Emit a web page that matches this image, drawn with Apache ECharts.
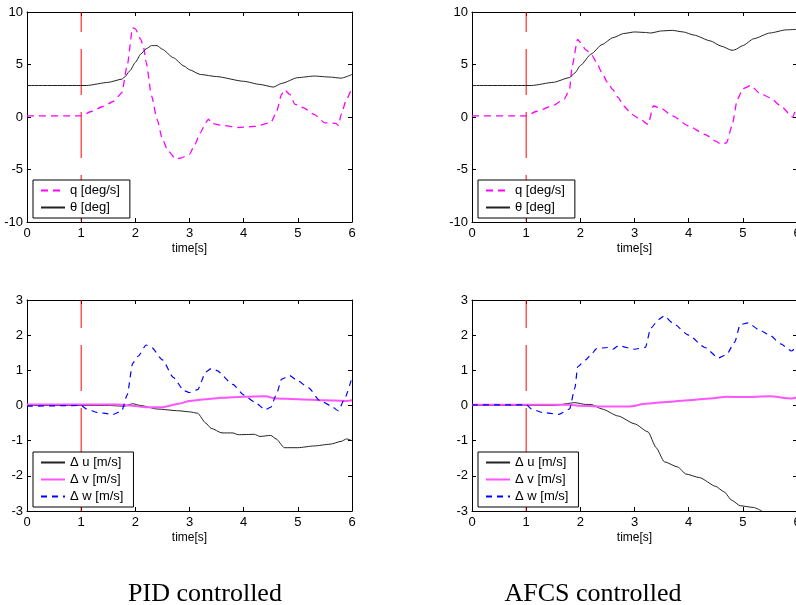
<!DOCTYPE html>
<html>
<head>
<meta charset="utf-8">
<script src="https://cdn.jsdelivr.net/npm/echarts@6/dist/echarts.min.js"></script>
<style>html,body{margin:0;padding:0;background:#fff}#c{width:796px;height:605px}</style>
</head>
<body>
<div id="c"></div>
<script>
// ---- data (time [s], value) ----
const xTicks = [0, 1, 2, 3, 4, 5, 6];
const stepTime = 1;

// PID, top panel
const qPid = [[0,0.1],[1,0.1],[1.2,0.55],[1.4,1.0],[1.6,1.5],[1.75,2.3],[1.85,4.9],[1.95,8.5],[2.0,8.4],[2.1,7.4],[2.15,6.7],[2.2,5.2],[2.3,2.0],[2.4,-0.2],[2.5,-2.1],[2.6,-3.2],[2.75,-4.0],[2.85,-3.9],[3.0,-3.55],[3.1,-2.6],[3.2,-1.5],[3.3,-0.55],[3.35,-0.2],[3.4,-0.6],[3.6,-0.8],[3.9,-1.0],[4.2,-0.9],[4.5,-0.55],[4.6,0.4],[4.7,2.15],[4.75,2.6],[4.85,2.15],[4.95,1.2],[5.1,0.9],[5.3,0.25],[5.5,-0.55],[5.7,-0.6],[5.75,-0.8],[5.8,0.25],[5.9,1.7],[6.0,2.8]];
const thetaPid = [[0,3.0],[1.1,3.0],[1.5,3.3],[1.75,3.6],[1.8,3.8],[1.9,4.4],[2.0,5.2],[2.1,6.0],[2.2,6.5],[2.3,6.8],[2.4,6.8],[2.5,6.45],[2.7,5.65],[2.9,4.85],[3.0,4.5],[3.2,4.05],[3.5,3.85],[4.0,3.4],[4.3,3.1],[4.55,2.85],[4.7,3.2],[5.0,3.75],[5.3,3.9],[5.6,3.8],[5.8,3.7],[6.0,4.05]];

// AFCS, top panel
const qAfcs = [[0,0.1],[1,0.1],[1.2,0.55],[1.5,1.1],[1.7,1.7],[1.8,2.6],[1.85,4.9],[1.95,7.4],[2.0,7.1],[2.1,6.4],[2.2,6.0],[2.3,5.2],[2.4,4.2],[2.5,3.3],[2.6,2.6],[2.7,1.85],[2.8,1.05],[2.95,0.25],[3.1,-0.2],[3.25,-0.7],[3.35,1.05],[3.5,0.8],[3.7,0.1],[4.0,-0.85],[4.3,-1.65],[4.5,-2.3],[4.6,-2.6],[4.7,-2.45],[4.8,-0.85],[4.9,1.7],[5.0,2.7],[5.15,3.0],[5.3,2.3],[5.5,1.85],[5.7,1.05],[5.92,0.0],[6.0,1.2]];
const thetaAfcs = [[0,3.0],[1.1,3.0],[1.5,3.3],[1.8,3.75],[1.9,4.2],[2.0,4.9],[2.2,6.0],[2.4,6.9],[2.6,7.55],[2.8,7.95],[3.0,8.1],[3.2,8.05],[3.3,8.0],[3.5,8.2],[3.7,8.25],[3.9,8.1],[4.1,7.8],[4.4,7.25],[4.6,6.75],[4.8,6.35],[4.85,6.4],[5.0,6.8],[5.2,7.45],[5.5,8.0],[5.8,8.3],[6.0,8.35]];

// PID, bottom panel
const duPid = [[0,0],[1.5,0],[1.8,-0.02],[1.95,0.05],[2.1,0.0],[2.4,-0.1],[2.8,-0.15],[3.0,-0.18],[3.15,-0.22],[3.3,-0.5],[3.4,-0.65],[3.6,-0.78],[3.8,-0.78],[3.9,-0.83],[4.2,-0.82],[4.3,-0.88],[4.5,-0.85],[4.6,-0.95],[4.75,-1.2],[5.0,-1.2],[5.3,-1.15],[5.6,-1.1],[5.8,-1.02],[5.9,-0.95],[6.0,-1.0]];
const dvPid = [[0,0.03],[1.7,0.03],[1.9,0.0],[2.2,-0.05],[2.5,-0.05],[2.8,0.05],[3.0,0.13],[3.3,0.18],[3.6,0.22],[4.0,0.25],[4.4,0.26],[4.6,0.2],[5.0,0.18],[5.5,0.15],[5.9,0.13],[6.0,0.15]];
const dwPid = [[0,-0.02],[1,0.0],[1.1,-0.1],[1.3,-0.2],[1.6,-0.25],[1.75,-0.15],[1.85,0.3],[1.95,1.2],[2.05,1.4],[2.2,1.72],[2.3,1.65],[2.5,1.3],[2.7,0.8],[2.9,0.42],[3.0,0.37],[3.15,0.45],[3.3,0.95],[3.4,1.05],[3.5,1.0],[3.8,0.6],[4.0,0.3],[4.2,0.1],[4.4,-0.12],[4.5,-0.05],[4.6,0.3],[4.7,0.75],[4.85,0.85],[5.0,0.7],[5.2,0.5],[5.4,0.15],[5.6,0.0],[5.75,-0.15],[5.85,0.15],[6.0,0.8]];

// AFCS, bottom panel
const duAfcs = [[0,0],[1.5,0],[1.9,0.08],[2.1,0.03],[2.2,0.03],[2.4,-0.1],[2.7,-0.3],[3.0,-0.52],[3.25,-0.75],[3.4,-1.2],[3.55,-1.6],[3.8,-1.75],[3.95,-1.95],[4.2,-2.05],[4.5,-2.3],[4.65,-2.45],[4.8,-2.7],[4.95,-2.85],[5.2,-2.9],[5.35,-3.0]];
const dvAfcs = [[0,0.02],[1.8,0.02],[2.0,-0.01],[2.5,-0.03],[2.9,-0.03],[3.2,0.05],[3.6,0.1],[4.0,0.15],[4.4,0.2],[4.7,0.25],[5.0,0.24],[5.5,0.26],[5.9,0.2],[6.0,0.23]];
const dwAfcs = [[0,0.02],[1,0.02],[1.1,-0.1],[1.3,-0.2],[1.6,-0.25],[1.8,-0.1],[1.9,0.5],[1.95,1.1],[2.1,1.3],[2.2,1.45],[2.3,1.62],[2.5,1.65],[2.6,1.6],[2.7,1.7],[3.0,1.6],[3.2,1.65],[3.3,2.2],[3.45,2.45],[3.55,2.55],[3.7,2.35],[4.0,2.0],[4.3,1.65],[4.55,1.35],[4.7,1.45],[4.85,1.8],[4.95,2.3],[5.1,2.35],[5.3,2.15],[5.5,2.0],[5.7,1.75],[5.9,1.55],[6.0,1.7]];

const topRange = {min: -10, max: 10, interval: 5};
const botRange = {min: -3, max: 3, interval: 1};
const panelTitles = ['PID controlled', 'AFCS controlled'];
const topNames = ['q [deg/s]', 'θ [deg]'];
const botNames = ['Δ u [m/s]', 'Δ v [m/s]', 'Δ w [m/s]'];

// ---- build ----
const FONT = 'Liberation Sans, Arial, sans-serif';
const grids = [
  {left: 27, top: 12, width: 325, height: 210},
  {left: 472, top: 12, width: 325, height: 210},
  {left: 27, top: 300, width: 325, height: 211},
  {left: 472, top: 300, width: 325, height: 211}
].map(g => Object.assign(g, {outerBoundsMode: 'none', containLabel: false}));
const ranges = [topRange, topRange, botRange, botRange];
const xAxis = [], yAxis = [];
grids.forEach((g, i) => {
  const lineS = {show: true, onZero: false, lineStyle: {color: '#000', width: 1}};
  const tick = {show: true, inside: true, length: 4, lineStyle: {color: '#000'}};
  xAxis.push({type: 'value', gridIndex: i, position: 'bottom', min: 0, max: 6, interval: 1,
    axisLine: lineS, axisTick: tick, splitLine: {show: false},
    axisLabel: {color: '#000', fontSize: 13, fontFamily: FONT, margin: 5},
    name: 'time[s]', nameLocation: 'middle', nameGap: 21,
    nameTextStyle: {color: '#000', fontSize: 12, fontFamily: FONT}});
  xAxis.push({type: 'value', gridIndex: i, position: 'top', min: 0, max: 6, interval: 1,
    axisLine: lineS, axisTick: tick, splitLine: {show: false}, axisLabel: {show: false}});
  const r = ranges[i];
  yAxis.push({type: 'value', gridIndex: i, position: 'left', min: r.min, max: r.max, interval: r.interval,
    axisLine: lineS, axisTick: tick, splitLine: {show: false},
    axisLabel: {color: '#000', fontSize: 13, fontFamily: FONT, margin: 4}});
  yAxis.push({type: 'value', gridIndex: i, position: 'right', min: r.min, max: r.max, interval: r.interval,
    axisLine: lineS, axisTick: tick, splitLine: {show: false}, axisLabel: {show: false}});
});

function line(name, data, gi, color, width, type, z) {
  return {name, type: 'line', data, xAxisIndex: 2 * gi, yAxisIndex: 2 * gi,
    symbol: 'none', smooth: 0.2, smoothMonotone: 'x', clip: true,
    lineStyle: {color, width, type}, itemStyle: {color}, z: z || 2, silent: true, animation: false};
}
function stepLine(gi, r, off) {
  return {name: 'step', type: 'line', data: [[stepTime, r.max], [stepTime, r.min]],
    xAxisIndex: 2 * gi, yAxisIndex: 2 * gi, symbol: 'none', clip: true,
    lineStyle: {color: '#ff0000', width: 1, type: [46, 17], dashOffset: off}, z: 1, animation: false};
}
const MAG = '#ff00ff', MAGV = '#ff55ff', BLUE = '#0000ff', BLK = '#222';
const dashQ = [7, 5], dashW = [6, 5];
const series = [
  stepLine(0, topRange, 26), stepLine(1, topRange, 26), stepLine(2, botRange, 18), stepLine(3, botRange, 18),
  line(topNames[0], qPid, 0, MAG, 1.3, dashQ),
  line(topNames[1], thetaPid, 0, BLK, 1, 'solid'),
  line(topNames[0], qAfcs, 1, MAG, 1.3, dashQ),
  line(topNames[1], thetaAfcs, 1, BLK, 1, 'solid'),
  line(botNames[0], duPid, 2, BLK, 1, 'solid'),
  line(botNames[1], dvPid, 2, MAGV, 2, 'solid'),
  line(botNames[2], dwPid, 2, BLUE, 1.2, dashW),
  line(botNames[0], duAfcs, 3, BLK, 1, 'solid'),
  line(botNames[1], dvAfcs, 3, MAGV, 2, 'solid'),
  line(botNames[2], dwAfcs, 3, BLUE, 1.2, dashW)
];
function legend(data, left, top) {
  return {data, left, top, orient: 'vertical', backgroundColor: '#fff', borderColor: '#000', borderWidth: 1,
    padding: [4, 10, 4, 7], itemWidth: 24, itemHeight: 12, itemGap: 4, selectedMode: false,
    itemStyle: {opacity: 0, borderWidth: 0},
    textStyle: {color: '#000', fontSize: 13, fontFamily: FONT}};
}
const option = {
  animation: false,
  backgroundColor: '#fff',
  grid: grids,
  xAxis, yAxis, series,
  legend: [legend(topNames, 33, 180), legend(topNames, 478, 180), legend(botNames, 33, 452), legend(botNames, 478, 452)],
  graphic: [
    {type: 'text', x: 205, y: 594, style: {text: panelTitles[0], fontSize: 26, fontFamily: 'Liberation Serif, serif', fill: '#000', align: 'center', verticalAlign: 'middle'}},
    {type: 'text', x: 593, y: 594, style: {text: panelTitles[1], fontSize: 26, fontFamily: 'Liberation Serif, serif', fill: '#000', align: 'center', verticalAlign: 'middle'}}
  ]
};
const chart = echarts.init(document.getElementById('c'), null, {renderer: 'canvas'});
chart.setOption(option);
</script>
</body>
</html>
